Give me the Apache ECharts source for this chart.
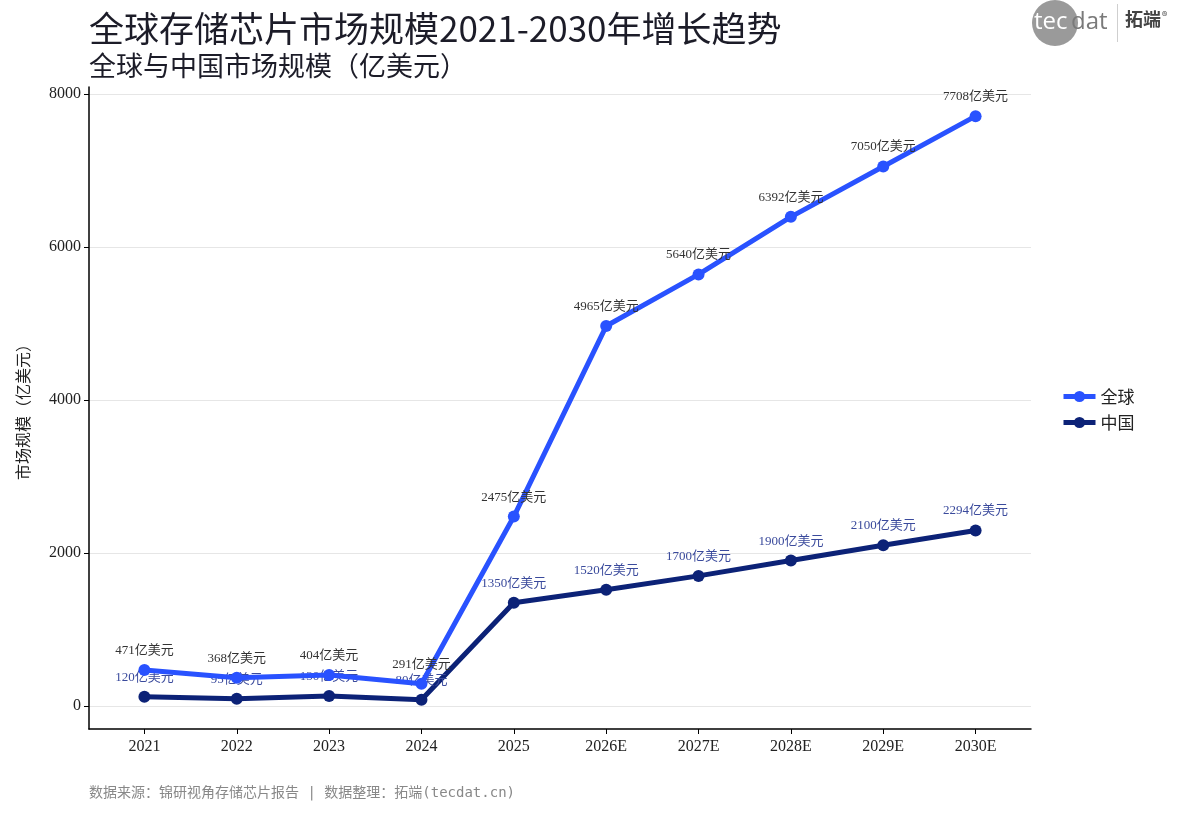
<!DOCTYPE html>
<html>
<head>
<meta charset="utf-8">
<title>全球存储芯片市场规模</title>
<script src="https://cdn.jsdelivr.net/npm/echarts@6/dist/echarts.min.js"></script>
<style>
  html, body { margin: 0; padding: 0; background: #fff; }
  #chart { width: 1177px; height: 824px; }
</style>
</head>
<body>
<div id="chart"></div>
<script>
// data
const years = ['2021', '2022', '2023', '2024', '2025', '2026E', '2027E', '2028E', '2029E', '2030E']
const globalSize = [471, 368, 404, 291, 2475, 4965, 5640, 6392, 7050, 7708]
const chinaSize = [120, 95, 130, 80, 1350, 1520, 1700, 1900, 2100, 2294]
const yTicks = [0, 2000, 4000, 6000, 8000]

const serif = '"Liberation Serif", "Noto Sans CJK SC", serif'
const cjk = '"Noto Sans CJK SC", sans-serif'
const mono = '"DejaVu Sans Mono", "Noto Sans CJK SC", monospace'
const globalColor = '#2952ff'
const chinaColor = '#0c2277'

// x positions 1..n, axis padded like a ggplot discrete scale
const xIndex = years.map((_, i) => i + 1)
const toPoints = arr => arr.map((v, i) => [i + 1, v])

const chart = echarts.init(document.getElementById('chart'))

chart.setOption({
  backgroundColor: '#fff',
  animation: false,
  title: [
    {
      text: '全球存储芯片市场规模2021-2030年增长趋势',
      left: 84,
      top: 6,
      textStyle: { fontFamily: cjk, fontSize: 35, fontWeight: 'normal', color: '#1c1c28' }
    },
    {
      text: '全球与中国市场规模（亿美元）',
      left: 84,
      top: 47,
      textStyle: { fontFamily: cjk, fontSize: 27, fontWeight: 'normal', color: '#1c1c28' }
    },
    {
      text: '数据来源：锦研视角存储芯片报告 | 数据整理：拓端(tecdat.cn)',
      left: 84,
      top: 781,
      textStyle: { fontFamily: mono, fontSize: 14, fontWeight: 'normal', color: '#888' }
    }
  ],
  legend: {
    orient: 'vertical',
    left: 1056,
    top: 383,
    itemGap: 9,
    itemWidth: 32,
    itemHeight: 14,
    lineStyle: { width: 5 },
    textStyle: { fontFamily: cjk, fontSize: 17, color: '#222' },
    data: ['全球', '中国']
  },
  grid: {
    left: 89,
    right: 146,
    top: 87,
    bottom: 95,
    containLabel: false
  },
  xAxis: {
    type: 'value',
    min: 0.4,
    max: 10.6,
    axisLine: { show: true, onZero: false, lineStyle: { color: '#000', width: 1.5 } },
    axisTick: { show: true, length: 5, customValues: xIndex, lineStyle: { color: '#000' } },
    axisLabel: {
      customValues: xIndex,
      margin: 10,
      fontFamily: serif,
      fontSize: 16,
      color: '#222',
      formatter: v => years[Math.round(v) - 1] || ''
    },
    splitLine: { show: false }
  },
  yAxis: {
    type: 'value',
    min: -301,
    max: 8089,
    name: '市场规模（亿美元）',
    nameLocation: 'middle',
    nameGap: 58,
    nameTextStyle: { fontFamily: cjk, fontSize: 16, color: '#222' },
    axisLine: { show: true, onZero: false, lineStyle: { color: '#000', width: 1.5 } },
    axisTick: { show: true, length: 5, customValues: yTicks, lineStyle: { color: '#000' } },
    axisLabel: {
      customValues: yTicks,
      margin: 8,
      fontFamily: serif,
      fontSize: 16,
      color: '#222',
      formatter: v => String(v)
    },
    splitLine: { show: true, lineStyle: { color: '#e6e6e6', width: 1 } }
  },
  series: [
    {
      name: '全球',
      type: 'line',
      data: toPoints(globalSize),
      symbol: 'circle',
      symbolSize: 12,
      color: globalColor,
      lineStyle: { width: 5, color: globalColor },
      itemStyle: { color: globalColor },
      label: {
        show: true,
        position: 'top',
        distance: 7,
        fontFamily: serif,
        fontSize: 13,
        color: '#333',
        formatter: p => p.value[1] + '亿美元'
      },
      z: 3
    },
    {
      name: '中国',
      type: 'line',
      data: toPoints(chinaSize),
      symbol: 'circle',
      symbolSize: 12,
      color: chinaColor,
      lineStyle: { width: 5, color: chinaColor },
      itemStyle: { color: chinaColor },
      label: {
        show: true,
        position: 'top',
        distance: 7,
        fontFamily: serif,
        fontSize: 13,
        color: '#3a4a9c',
        formatter: p => p.value[1] + '亿美元'
      },
      z: 2
    }
  ],
  graphic: [
    {
      type: 'circle',
      shape: { cx: 1055, cy: 23, r: 23 },
      style: { fill: '#9a9a9a' }
    },
    {
      type: 'text',
      left: 1034,
      top: 10,
      style: { text: 'tec', fontFamily: '"Open Sans", sans-serif', fontSize: 24, fill: '#fff' }
    },
    {
      type: 'text',
      left: 1071,
      top: 10,
      style: { text: 'dat', fontFamily: '"Open Sans", sans-serif', fontSize: 24, fill: '#7a7a7a' }
    },
    {
      type: 'rect',
      shape: { x: 1117, y: 4, width: 1, height: 38 },
      style: { fill: '#cfcfcf' }
    },
    {
      type: 'text',
      left: 1125,
      top: 10,
      style: { text: '拓端', fontFamily: cjk, fontSize: 18, fontWeight: 'bold', fill: '#444' }
    },
    {
      type: 'text',
      left: 1162,
      top: 10,
      style: { text: '®', fontFamily: cjk, fontSize: 11, fill: '#444' }
    }
  ]
})
</script>
</body>
</html>
